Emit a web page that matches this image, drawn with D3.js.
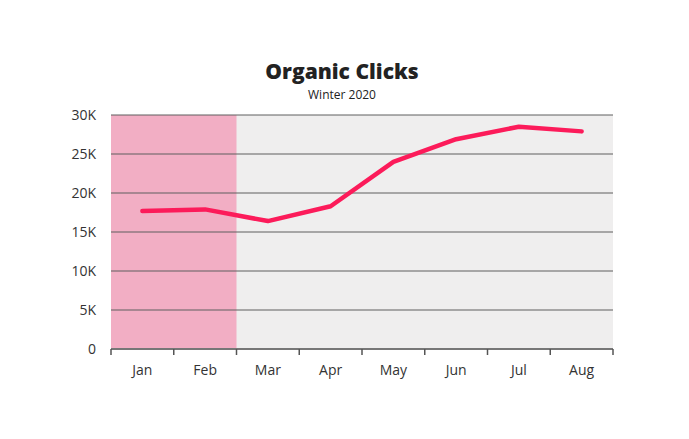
<!DOCTYPE html>
<html>
<head>
<meta charset="utf-8">
<script src="https://cdn.jsdelivr.net/npm/d3@7"></script>
<style>
body{margin:0;background:#fff;}
svg{display:block;font-family:"Open Sans",sans-serif;}
.grid line{stroke:#5e5e5e;stroke-width:1;}
</style>
</head>
<body>
<div id="chart"></div>
<script>
var months = ['Jan','Feb','Mar','Apr','May','Jun','Jul','Aug'];
var clicks = [17700,17900,16400,18300,24000,26900,28500,27900];
var yTicks = [0,5000,10000,15000,20000,25000,30000];
var highlight = ['Jan','Feb'];

var W = 689, H = 439;
var m = {top:115, right:76, bottom:90, left:111};
var w = W-m.left-m.right, h = H-m.top-m.bottom;

var svg = d3.select('#chart').append('svg')
	.attr('width',W).attr('height',H);

svg.append('text')
	.attr('x',342).attr('y',79)
	.attr('text-anchor','middle')
	.attr('font-size',21).attr('font-weight',800)
	.attr('fill','#222')
	.text('Organic Clicks');
svg.append('text')
	.attr('x',342).attr('y',99)
	.attr('text-anchor','middle')
	.attr('font-size',12)
	.attr('fill','#222')
	.text('Winter 2020');

var g = svg.append('g').attr('transform','translate('+m.left+','+m.top+')');

var x = d3.scaleBand().domain(months).range([0,w]).padding(0);
var y = d3.scaleLinear().domain([0,30000]).range([h,0]);

// plot background
g.append('rect').attr('width',w).attr('height',h).attr('fill','#efeeee');
g.append('rect')
	.attr('x',x(highlight[0]))
	.attr('width',x(highlight[highlight.length-1])+x.bandwidth()-x(highlight[0]))
	.attr('height',h)
	.attr('fill','#f2aec4');

// gridlines
g.append('g').attr('class','grid')
	.selectAll('line')
	.data(yTicks.filter(function(d){return d>0;})).enter()
	.append('line')
	.attr('x1',0).attr('x2',w)
	.attr('y1',function(d){return y(d);})
	.attr('y2',function(d){return y(d);});

// y labels
g.selectAll('.ylab')
	.data(yTicks).enter()
	.append('text')
	.attr('class','ylab')
	.attr('x',-15)
	.attr('y',function(d){return y(d);})
	.attr('dy','0.35em')
	.attr('text-anchor','end')
	.attr('font-size',14)
	.attr('fill','#333')
	.text(function(d){return d===0?'0':d3.format('d')(d/1000)+'K';});

// x axis
var xa = g.append('g').attr('transform','translate(0,'+h+')');
xa.append('line').attr('x1',0).attr('x2',w)
	.attr('stroke','#777').attr('stroke-width',2);
var bounds = months.map(function(d){return x(d);}).concat([w]);
xa.selectAll('.tk').data(bounds).enter()
	.append('line')
	.attr('x1',function(d){return d;}).attr('x2',function(d){return d;})
	.attr('y1',0).attr('y2',6)
	.attr('stroke','#555').attr('stroke-width',1.5);
xa.selectAll('.xlab').data(months).enter()
	.append('text')
	.attr('x',function(d){return x(d)+x.bandwidth()/2;})
	.attr('y',26)
	.attr('text-anchor','middle')
	.attr('font-size',14)
	.attr('fill','#333')
	.text(function(d){return d;});

// line
var line = d3.line()
	.x(function(d,i){return x(months[i])+x.bandwidth()/2;})
	.y(function(d){return y(d);});
g.append('path')
	.datum(clicks)
	.attr('d',line)
	.attr('fill','none')
	.attr('stroke','#fc1b5a')
	.attr('stroke-width',4.5)
	.attr('stroke-linecap','round')
	.attr('stroke-linejoin','round');
</script>
</body>
</html>
